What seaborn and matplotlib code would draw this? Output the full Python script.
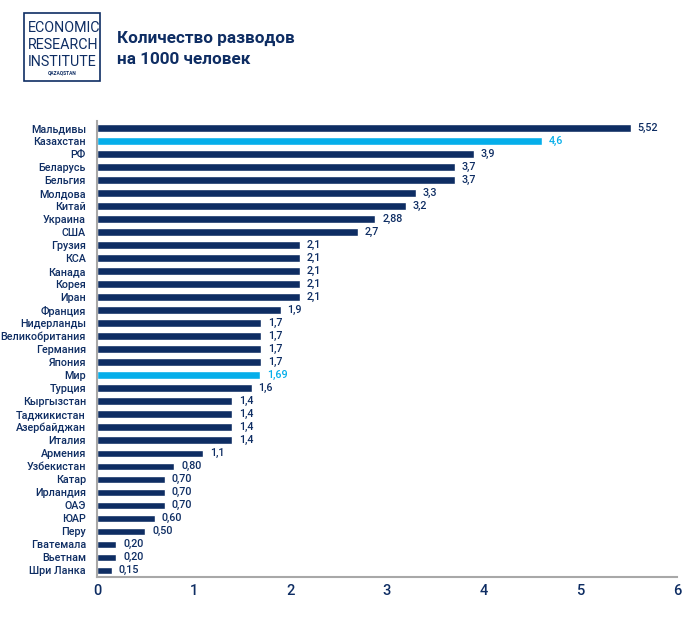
import matplotlib
matplotlib.use("Agg")
import matplotlib.pyplot as plt
import seaborn as sns
import pandas as pd
import numpy as np
from matplotlib.patches import Rectangle
from matplotlib import font_manager as fm

countries = ["Мальдивы", "Казахстан", "РФ", "Беларусь", "Бельгия", "Молдова", "Китай",
             "Украина", "США", "Грузия", "КСА", "Канада", "Корея", "Иран", "Франция",
             "Нидерланды", "Великобритания", "Германия", "Япония", "Мир", "Турция",
             "Кыргызстан", "Таджикистан", "Азербайджан", "Италия", "Армения", "Узбекистан",
             "Катар", "Ирландия", "ОАЭ", "ЮАР", "Перу", "Гватемала", "Вьетнам", "Шри Ланка"]
values = [5.52, 4.6, 3.9, 3.7, 3.7, 3.3, 3.2, 2.88, 2.7, 2.1, 2.1, 2.1, 2.1, 2.1, 1.9,
          1.7, 1.7, 1.7, 1.7, 1.69, 1.6, 1.4, 1.4, 1.4, 1.4, 1.1, 0.80, 0.70, 0.70, 0.70,
          0.60, 0.50, 0.20, 0.20, 0.15]
value_labels = ["5,52", "4,6", "3,9", "3,7", "3,7", "3,3", "3,2", "2,88", "2,7", "2,1", "2,1",
                "2,1", "2,1", "2,1", "1,9", "1,7", "1,7", "1,7", "1,7", "1,69", "1,6", "1,4",
                "1,4", "1,4", "1,4", "1,1", "0,80", "0,70", "0,70", "0,70", "0,60", "0,50",
                "0,20", "0,20", "0,15"]
highlight = ["Казахстан", "Мир"]
x_ticks = [0, 1, 2, 3, 4, 5, 6]
title_lines = ["Количество разводов", "на 1000 человек"]
logo_lines = ["ECONOMIC", "RESEARCH", "INSTITUTE"]

NAVY = "#0e2d63"
BLUE = "#05aeea"
GREY = "#a8a8a8"

sns.set_theme(style="white")
plt.rcParams['font.family'] = ['Roboto', 'DejaVu Sans']


def props(weight="normal", size=10):
    return fm.FontProperties(family=['Roboto', 'DejaVu Sans'], size=size, weight=weight)


df = pd.DataFrame({"country": countries, "value": values})
palette = {c: (BLUE if c in highlight else NAVY) for c in countries}

fig = plt.figure(figsize=(7.0, 6.21), dpi=100)
ax = fig.add_axes([0.1386, 0.0709, 0.8284, 0.7338])
renderer = fig.canvas.get_renderer()


def fit_size(text, target_px, weight="normal", maxsize=13):
    t = fig.text(0, 0, text, fontproperties=props(weight, 10))
    w = t.get_window_extent(renderer).width
    t.remove()
    return min(maxsize, 10 * target_px / w)


lab_size = fit_size("Великобритания", 84, "medium", maxsize=10)
val_size = lab_size
title_size = fit_size(title_lines[0], 178, "bold", maxsize=15)
logo_size = fit_size(logo_lines[0], 72, "normal", maxsize=11.5)

sns.barplot(data=df, y="country", x="value", hue="country", palette=palette,
            order=countries, legend=False, width=0.58, ax=ax, saturation=1)

ax.set_xlim(0, 6)
ax.set_ylim(len(countries) - 0.5, -0.5)
ax.set_xticks(x_ticks)
ax.set_xticklabels([str(t) for t in x_ticks], color=NAVY,
                   fontproperties=props("medium", 10.5))
ax.set_yticks(range(len(countries)))
ax.set_yticklabels(countries, color=NAVY, fontproperties=props("medium", lab_size))
ax.set_xlabel("")
ax.set_ylabel("")
ax.tick_params(axis="y", length=0, pad=8)
ax.tick_params(axis="x", direction="in", length=3, color=GREY, pad=5)
ax.set_yticks(np.arange(len(countries)) - 0.5, minor=True)
ax.tick_params(axis="y", which="minor", length=3, color=GREY, direction="out")

for s in ["top", "right"]:
    ax.spines[s].set_visible(False)
for s in ["left", "bottom"]:
    ax.spines[s].set_color(GREY)
    ax.spines[s].set_linewidth(1.5)

for i, (c, v, lab) in enumerate(zip(countries, values, value_labels)):
    ax.text(v + 0.07, i, lab, va="center", ha="left",
            fontproperties=props("medium", val_size),
            color=(BLUE if c in highlight else NAVY))

# Title
for k, line in enumerate(title_lines):
    fig.text(117 / 700, 1 - (38 + 22 * k) / 621, line, fontproperties=props("bold", title_size),
             color=NAVY, va="center", ha="left")

# Logo
fig.patches.append(Rectangle((24 / 700, 1 - 81 / 621), 76 / 700, 68 / 621,
                             transform=fig.transFigure, fill=False,
                             edgecolor=NAVY, linewidth=1.2))
for k, t in enumerate(logo_lines):
    fig.text(28 / 700, 1 - (28 + k * 17) / 621, t, fontproperties=props("normal", logo_size),
             color=NAVY, va="center", ha="left")
fig.text(62 / 700, 1 - 73 / 621, "QAZAQSTAN", fontsize=3.5, color=NAVY,
         va="center", ha="center", fontweight="bold")

fig.savefig("out.png", dpi=100)
